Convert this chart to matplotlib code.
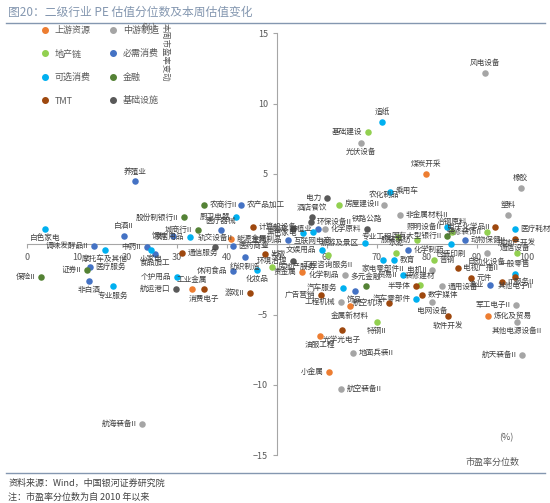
import matplotlib
matplotlib.use("Agg")
import matplotlib.pyplot as plt
from matplotlib.lines import Line2D

plt.rcParams['font.family'] = ['Noto Sans CJK SC', 'DejaVu Sans']

categories = ["上游资源", "中游制造", "地产链", "必需消费", "可选消费", "金融", "TMT", "基础设施"]
colors = ["#ED7D31", "#A5A5A5", "#92D050", "#4472C4", "#00B0F0", "#548235", "#9E480E", "#595959"]

# name, category index, PE percentile, weekly PE change
names = ["煤炭开采","能源金属","贵金属","工业金属","油服工程","小金属","金属新材料","炼化及贸易",
         "风电设备","光伏设备","橡胶","农化制品","非金属材料II","塑料","化学原料","自动化设备","电机II","通用设备","电网设备",
         "工程机械","化学制品","地面兵装II","航空装备II","航海装备II","军工电子II","其他电源设备II","航天装备II",
         "基础建设","房屋建设II","专业工程","装修装饰II","冶钢原料","服装家纺","普钢","房地产开发","水泥","装修建材",
         "工程咨询服务II","特钢II","房地产服务",
         "养殖业","农产品加工","白酒II","饲料","医疗器械","调味发酵品II","中药II","食品加工","医药商业","纺织制造",
         "医疗服务","非白酒","休闲食品","种植业","生物制品","化学制药","动物保健II","渔业","饰品",
         "白色家电","厨卫电器","家居用品","摩托车及其他","小家电","专业服务","个护用品","化妆品",
         "造纸","乘用车","黑色家电","互联网电商","旅游及景区","照明设备II","包装印刷","文娱用品","家电零部件II",
         "教育","贸易II","汽车服务","医疗耗材","一般零售","汽车零部件",
         "农商行II","股份制银行II","城商行II","保险II","证券II","国有大型银行II","多元金融",
         "计算机设备","通信服务","出版","消费电子","游戏II","电子化学品II","通信设备","电视广播II","广告营销",
         "航空机场","光学光电子","半导体","数字媒体","软件开发","元件","IT服务II","其他电子II",
         "电力","轨交设备II","航运港口","酒店餐饮","物流","铁路公路","环境治理","环保设备II"]
cat_idx = [0,0,0,0,0,0,0,0,
           1,1,1,1,1,1,1,1,1,1,1,
           1,1,1,1,1,1,1,1,
           2,2,2,2,2,2,2,2,2,2,
           2,2,2,
           3,3,3,3,3,3,3,3,3,3,
           3,3,3,3,3,3,3,3,3,
           4,4,4,4,4,4,4,4,
           4,4,4,4,4,4,4,4,4,
           4,4,4,4,4,4,
           5,5,5,5,5,5,5,
           6,6,6,6,6,6,6,6,6,
           6,6,6,6,6,6,6,6,
           7,7,7,7,7,7,7,7]
pe_pct = [79.8,40.8,55.0,33.0,58.6,60.4,64.6,92.2,
          91.6,66.8,98.8,71.4,74.6,96.2,59.6,92.0,81.0,83.0,81.0,
          62.8,63.6,65.2,62.8,23.0,97.8,98.0,99.0,
          68.2,62.4,74.2,92.0,85.0,78.0,81.4,98.0,73.8,78.6,
          60.2,70.0,49.0,
          21.6,42.8,19.4,29.2,38.8,13.4,24.0,25.6,41.2,43.6,
          12.6,12.4,41.2,58.2,52.2,76.2,87.6,92.6,65.6,
          3.6,41.8,32.6,15.6,24.8,17.2,30.0,46.0,
          71.0,72.6,55.2,57.2,67.6,84.0,84.8,59.0,71.2,
          73.4,75.2,63.2,97.6,97.6,77.8,
          35.4,31.4,34.2,2.8,12.0,84.0,67.8,
          45.2,31.0,47.6,35.4,44.6,93.6,97.6,86.2,58.8,
          72.4,63.0,77.8,79.0,84.2,88.8,95.0,97.6,
          60.0,37.6,29.8,57.0,53.2,68.0,53.2,56.8]
pe_chg = [5.0,0.4,-2.0,-3.2,-6.5,-9.1,-4.4,-5.1,
          12.2,7.2,4.0,2.8,2.1,2.1,1.1,-0.6,-1.8,-3.0,-4.1,
          -4.1,-2.2,-7.7,-10.3,-12.8,-4.3,-5.5,-7.9,
          8.0,2.8,0.5,0.9,0.9,0.3,-1.1,-0.6,-0.6,-2.9,
          -0.8,-5.5,-1.6,
          4.5,2.8,0.6,0.6,1.0,-0.1,-0.2,-0.7,-0.1,-0.9,
          -1.6,-2.6,-1.9,1.1,0.3,-0.4,0.3,-2.9,-3.3,
          1.1,1.9,0.5,-0.4,-0.4,-3.0,-2.3,-1.8,
          8.7,3.7,0.8,0.9,0.1,1.2,0.0,-0.4,-1.1,
          -1.1,-2.2,-3.1,1.1,-2.1,-3.9,
          2.8,1.9,1.0,-2.3,-1.8,0.6,-3.0,
          1.2,-0.6,-0.7,-3.2,-3.5,1.2,0.4,-1.7,-3.6,
          -4.2,-6.1,-3.0,-3.6,-5.1,-2.4,-2.7,-2.3,
          3.3,-0.2,-3.2,1.9,1.1,1.1,-1.2,1.6]

# label side per point: r=right, l=left, t=top, b=bottom
sides = ["t","r","l","t","b","l","b","r",
         "t","b","t","t","r","t","r","b","l","r","b",
         "l","l","r","r","l","l","b","l",
         "l","r","l","l","t","l","r","t","t","t",
         "b","b","r",
         "t","r","t","l","t","l","l","b","r","b",
         "r","b","l","l","l","r","r","l","b",
         "b","l","l","b","b","b","l","b",
         "t","r","l","b","l","l","b","l","b",
         "r","l","l","r","t","l",
         "r","l","l","l","l","l","t",
         "r","r","r","b","l","l","b","r","l",
         "l","b","l","r","b","r","r","b",
         "l","t","l","t","l","t","l","r"]

xt = [0,10,20,30,40,50,60,70,80,90,100]

fig = plt.figure(figsize=(5.5, 5.03), dpi=100)
ax = fig.add_axes([0.049, 0.095, 0.909, 0.839])
ax.set_xlim(0, 100)
ax.set_ylim(-15, 15)
for s in ["top", "right"]:
    ax.spines[s].set_visible(False)
ax.spines["left"].set_position(("data", 50))
ax.spines["bottom"].set_position(("data", 0))
for s in ["left", "bottom"]:
    ax.spines[s].set_color("#A6A6A6")
ax.set_xticks(xt)
ax.set_yticks([-15, -10, -5, 0, 5, 10, 15])
ax.tick_params(colors="#A6A6A6", labelcolor="#595959", labelsize=6.5, length=3)

off = {"r": (4, 0, "left", "center"), "l": (-4, 0, "right", "center"),
       "t": (0, 4, "center", "bottom"), "b": (0, -4, "center", "top")}
for n, c, x, y, sd in zip(names, cat_idx, pe_pct, pe_chg, sides):
    ax.scatter(x, y, s=22, color=colors[c], zorder=3, linewidths=0)
    dx, dy, ha, va = off[sd]
    ax.annotate(n, (x, y), xytext=(dx, dy), textcoords="offset points",
                ha=ha, va=va, fontsize=5.5, color="#404040", zorder=4)

handles = [Line2D([], [], marker="o", ls="", color=col, markersize=4) for col in colors]
order = [0, 2, 4, 6, 1, 3, 5, 7]
leg = fig.legend([handles[i] for i in order], [categories[i] for i in order],
                 ncol=2, loc="upper left", bbox_to_anchor=(0.05, 0.965), frameon=False,
                 fontsize=6.5, handletextpad=0.1, columnspacing=1.5, labelspacing=1.6)
for t in leg.get_texts():
    t.set_color("#595959")

fig.text(0.27, 0.94, "(%)", fontsize=6.5, color="#595959", ha="center")
fig.text(0.30, 0.955, "本周市盈率变动", fontsize=6, color="#595959", rotation=270, va="top", ha="center")
fig.text(0.92, 0.125, "(%)", fontsize=6.5, color="#595959", ha="center")
fig.text(0.895, 0.075, "市盈率分位数", fontsize=6.5, color="#595959", ha="center")

fig.text(0.015, 0.975, "图20：二级行业 PE 估值分位数及本周估值变化", fontsize=8.5, color="#8497B0", va="center")
fig.add_artist(Line2D([0.01, 0.99], [0.955, 0.955], color="#8497B0", lw=1))
fig.add_artist(Line2D([0.01, 0.99], [0.06, 0.06], color="#8497B0", lw=1))
fig.text(0.015, 0.04, "资料来源：Wind，中国银河证券研究院", fontsize=6.5, color="#404040", style="italic", va="center")
fig.text(0.015, 0.012, "注：市盈率分位数为自 2010 年以来", fontsize=6.5, color="#404040", style="italic", va="center")

fig.savefig("out.png", dpi=100)
